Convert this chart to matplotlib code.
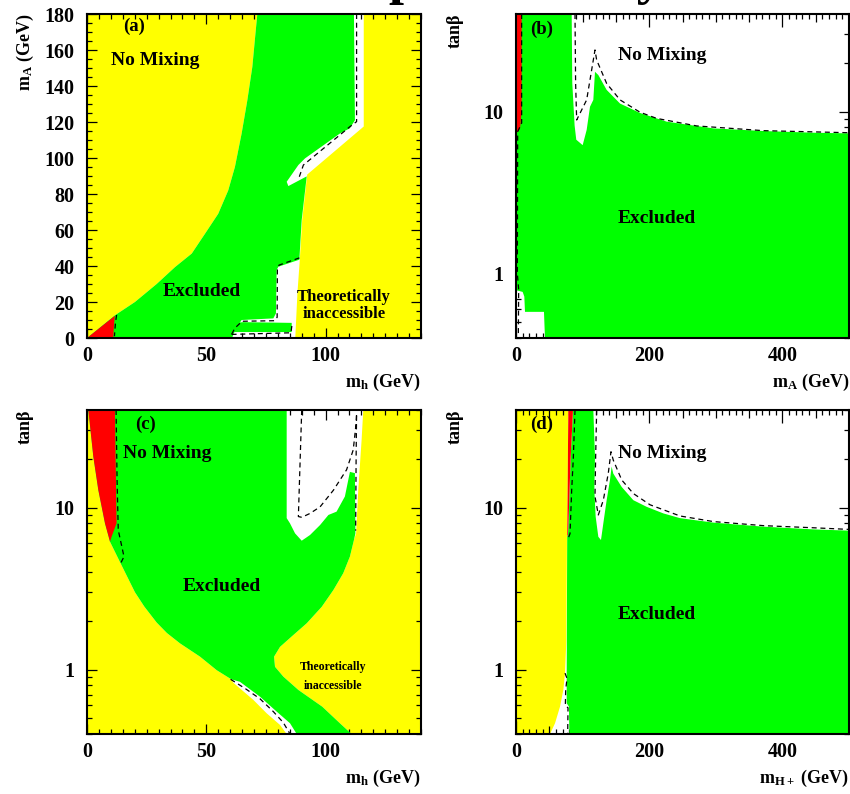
import matplotlib
matplotlib.use("Agg")
import matplotlib.pyplot as plt
from matplotlib.ticker import MultipleLocator, LogLocator, FuncFormatter, NullFormatter, FixedLocator

plt.rcParams['font.family'] = ['Liberation Serif', 'DejaVu Serif']
plt.rcParams['font.weight'] = 'bold'
plt.rcParams['mathtext.fontset'] = 'custom'
plt.rcParams['mathtext.rm'] = 'Liberation Serif:bold'
plt.rcParams['mathtext.it'] = 'Liberation Serif:bold'
plt.rcParams['mathtext.bf'] = 'Liberation Serif:bold'

YELLOW = '#FFFF00'
GREEN = '#00FF00'
RED = '#FF0000'

# ---------------- Panel (a): m_A vs m_h ----------------
a_left_x = [0, 11.7, 20.1, 29.2, 36.9, 43.9, 49.5, 55.0, 59.2, 62.0, 64.8, 67.2, 69.3, 70.6, 71.4]
a_left_y = [0, 12.6, 20.0, 30.0, 39.4, 46.9, 58.0, 69.0, 82.0, 95.0, 113.5, 132.0, 150.6, 169.0, 180]
a_allowed_right_x = [116.0, 116.0, 92.3, 90.2, 89.2, 88.2, 87.3]
a_allowed_right_y = [180, 117.5, 90.8, 65.6, 43.5, 25.0, 0]
a_green_right_x = [111.9, 112.3, 110.2, 106.1, 91.4, 88.6, 83.7, 84.4, 92.1, 90.0, 89.0, 80.2, 79.5, 79.2, 78.1, 64.8, 62.3, 60.8]
a_green_right_y = [180, 121.0, 116.5, 113.7, 99.8, 96.1, 86.8, 84.4, 89.8, 65.6, 43.5, 39.6, 37.8, 13.7, 10.9, 10.0, 5.0, 0]
a_tongue_x = [61.5, 85.8, 85.8, 65.5, 63.5, 62.0]
a_tongue_y = [3.3, 3.3, 8.4, 8.8, 8.6, 5.5]
a_red_x = [0, 11.7, 11.3, 11.0]
a_red_y = [0, 12.4, 7.0, 0]
a_dash1_x = [113.0, 113.0, 110.2, 90.7, 89.0]
a_dash1_y = [180, 120.2, 117.4, 96.1, 89.6]
a_dash2_x = [89.0, 80.5, 79.8, 79.7, 78.5, 65.0, 62.0, 60.6]
a_dash2_y = [44.5, 40.5, 38.5, 11.5, 9.6, 9.3, 5.5, 2.0]
a_dash3_x = [60.6, 85.5, 86.0]
a_dash3_y = [2.0, 2.9, 8.2]
a_dash4_x = [12.4, 11.9, 11.5]
a_dash4_y = [12.8, 8.0, 1.0]

# ---------------- Panel (b): tan(beta) vs m_A ----------------
b_green_x = [0, 83.6, 84.5, 88.0, 90.5, 100.1, 106.1, 111.1, 116.1, 118.6, 123.6, 136.1, 156.2,
             186.2, 226.2, 296.3, 371.4, 446.5, 500, 500, 43.5, 42.0, 13.5, 12.5, 10.0, 0]
b_green_y = [40, 40, 15.0, 8.2, 6.7, 6.2, 7.7, 10.7, 11.8, 17.6, 16.8, 13.6, 11.2,
             9.8, 8.66, 7.87, 7.58, 7.4, 7.33, 0.4, 0.4, 0.58, 0.58, 0.72, 0.77, 0.79]
b_red_x = [0, 8.5, 8.5, 6.0, 0]
b_red_y = [40, 40, 10.0, 7.8, 7.3]
b_dash1_x = [88.6, 89.5, 91.1, 106.1, 118.6, 121.1, 136.1, 156.2, 186.2, 211.2, 271.3, 371.4, 499.5, 499.5]
b_dash1_y = [40, 15.0, 8.87, 11.8, 24.0, 20.8, 14.9, 11.8, 9.9, 9.07, 8.15, 7.62, 7.4, 0.4]
b_dash2_x = [8.5, 8.5, 2.5, 2.0, 4.0, 3.5]
b_dash2_y = [40, 8.5, 7.5, 1.0, 0.8, 0.41]

# ---------------- Panel (c): tan(beta) vs m_h ----------------
c_green_x = [0.56, 83.7, 83.7, 85.1, 87.2, 90.0, 93.5, 97.7, 101.2, 104.6, 108.1, 110.2, 112.3, 112.5,
             111.9, 110.2, 107.4, 103.3, 98.4, 92.1, 85.8, 80.9, 78.4, 78.8, 82.3, 88.6, 98.6, 106.0, 110.9,
             87.9, 85.1, 79.5, 72.5, 64.1, 60.5, 54.4, 47.4, 39.0, 33.5, 29.2, 24.0, 20.1, 14.1, 9.64, 7.54, 4.75, 2.65]
c_green_y = [40, 40, 8.6, 7.98, 6.93, 6.24, 6.77, 7.8, 9.0, 9.43, 11.7, 16.6, 16.3, 6.93,
             6.31, 4.98, 3.93, 3.1, 2.44, 1.93, 1.6, 1.38, 1.2, 1.04, 0.904, 0.748, 0.59, 0.466, 0.4,
             0.4, 0.466, 0.55, 0.68, 0.84, 0.87, 0.99, 1.2, 1.45, 1.68, 1.95, 2.45, 3.0, 4.52, 6.15, 7.98, 12.8, 20.6]
c_allowed_x = [0.56, 115.8, 115.1, 113.7, 112.8,
               111.9, 110.2, 107.4, 103.3, 98.4, 92.1, 85.8, 80.9, 78.4, 78.8, 82.3, 88.6, 98.6, 106.0, 110.9,
               83.7, 80.9, 75.3, 69.7, 61.3, 60.5, 54.4, 47.4, 39.0, 33.5, 29.2, 24.0, 20.1, 14.1, 9.64, 7.54, 4.75, 2.65]
c_allowed_y = [40, 40, 26.1, 12.8, 6.93,
               6.31, 4.98, 3.93, 3.1, 2.44, 1.93, 1.6, 1.38, 1.2, 1.04, 0.904, 0.748, 0.59, 0.466, 0.4,
               0.4, 0.455, 0.537, 0.65, 0.83, 0.87, 0.99, 1.2, 1.45, 1.68, 1.95, 2.45, 3.0, 4.52, 6.15, 7.98, 12.8, 20.6]
c_red_x = [0.56, 11.7, 12.0, 12.4, 10.3, 9.64, 7.54, 4.75, 2.65]
c_red_y = [40, 40, 20.0, 8.0, 6.6, 6.15, 7.98, 12.8, 20.6]
c_dash1_x = [12.2, 12.6, 13.1, 15.5, 14.1]
c_dash1_y = [40, 15.0, 7.26, 4.98, 4.52]
c_dash2_x = [90.0, 88.6, 90.0, 93.5, 97.7, 103.3, 108.8, 111.6, 112.8, 113.0, 112.8, 112.6]
c_dash2_y = [40, 8.8, 8.7, 9.2, 10.1, 12.8, 17.1, 22.7, 33.1, 38.0, 20.0, 7.2]
c_dash3_x = [60.2, 66.5, 72.5, 78.1, 82.3, 85.1]
c_dash3_y = [0.87, 0.76, 0.66, 0.55, 0.47, 0.4]

# ---------------- Panel (d): tan(beta) vs m_H+ ----------------
d_yellow_x = [0, 51.1, 58.6, 66.1, 71.1, 73.6, 75.6, 76.1, 76.6, 77.6, 78.1, 78.6, 0]
d_yellow_y = [0.4, 0.4, 0.466, 0.59, 0.75, 0.95, 1.5, 3.2, 6.6, 13.0, 25.0, 40, 40]
d_green_x = [85.6, 116.1, 118.6, 117.6, 119.6, 123.6, 127.6, 131.1, 136.1, 141.1, 143.6, 146.1, 158.7,
             176.2, 196.2, 221.2, 246.2, 296.3, 371.4, 446.5, 500, 500, 80.1, 79.5, 76.1, 76.1, 76.3,
             76.6, 76.9, 78.1, 79.6, 82.0]
d_green_y = [40, 40, 20.6, 12.8, 8.8, 6.6, 6.3, 7.98, 11.1, 14.8, 17.9, 16.2, 13.4,
             11.1, 10.1, 9.2, 8.6, 8.07, 7.62, 7.33, 7.2, 0.4, 0.4, 0.59, 0.62, 0.93, 1.5,
             3.2, 6.6, 6.8, 10.0, 20.0]
d_red_x = [78.6, 85.6, 82.0, 79.6, 78.1, 76.9, 77.6, 78.1]
d_red_y = [40, 40, 20.0, 10.0, 6.8, 6.6, 13.0, 25.0]
d_dash1_x = [88.6, 86.0, 83.6, 81.1, 78.1]
d_dash1_y = [40, 20.0, 12.8, 6.9, 6.4]
d_dash2_x = [73.6, 76.6, 74.6, 74.1, 78.1, 77.6]
d_dash2_y = [0.95, 0.88, 0.75, 0.6, 0.58, 0.4]
d_dash3_x = [121.1, 119.6, 118.6, 123.6, 131.1, 138.6, 142.6, 146.1, 158.7, 176.2, 201.2, 246.2,
             296.3, 371.4, 446.5, 499.5, 499.5]
d_dash3_y = [40, 20.6, 11.7, 9.0, 11.1, 16.3, 22.1, 19.6, 14.8, 12.2, 10.4, 8.87,
             8.19, 7.73, 7.5, 7.33, 0.4]

mh_ticks = [0, 50, 100]
mA_ticks_a = [0, 20, 40, 60, 80, 100, 120, 140, 160, 180]
mass_ticks_b = [0, 200, 400]
tb_ticks = [1, 10]

fig = plt.figure(figsize=(8.5, 7.94), dpi=100)
W, H = 850.0, 794.0

def make_axes(left_px, top_px, right_px, bottom_px):
    return fig.add_axes([left_px / W, 1 - bottom_px / H, (right_px - left_px) / W, (bottom_px - top_px) / H])

ax_a = make_axes(87, 14, 421, 338)
ax_b = make_axes(516, 14, 849, 338)
ax_c = make_axes(87, 410, 421, 734)
ax_d = make_axes(516, 410, 849, 734)

DASH = dict(color='black', lw=0.9, ls=(0, (4, 3)), zorder=5)

def style_common(ax):
    for s in ax.spines.values():
        s.set_linewidth(1.5)
        s.set_zorder(6)
    ax.tick_params(which='both', direction='in', top=True, right=True, width=0.9,
                   labelsize=14.5, zorder=7)
    ax.tick_params(which='major', length=7.5)
    ax.tick_params(which='minor', length=3.5)
    ax.tick_params(axis='x', pad=6)
    ax.tick_params(axis='y', pad=9)
    for lab in ax.get_xticklabels() + ax.get_yticklabels():
        lab.set_fontweight('bold')

def mh_xaxis(ax):
    ax.set_xlim(0, 140)
    ax.xaxis.set_major_locator(FixedLocator(mh_ticks))
    ax.xaxis.set_minor_locator(MultipleLocator(5))
    ax.xaxis.set_major_formatter(FuncFormatter(lambda v, p: f"{v:.0f}"))

def heavy_xaxis(ax):
    ax.set_xlim(0, 500)
    ax.xaxis.set_major_locator(MultipleLocator(50))
    ax.xaxis.set_minor_locator(MultipleLocator(10))
    ax.xaxis.set_major_formatter(FuncFormatter(
        lambda v, p: f"{v:.0f}" if int(round(v)) in mass_ticks_b else ""))

def lengthen_heavy(ax):
    locs = ax.xaxis.get_majorticklocs()
    ticks = ax.xaxis.get_major_ticks(len(locs))
    for tk, v in zip(ticks, locs):
        if int(round(v)) % 200 == 0:
            tk.tick1line.set_markersize(9.5)
            tk.tick2line.set_markersize(9.5)
        else:
            tk.tick1line.set_markersize(5.5)
            tk.tick2line.set_markersize(5.5)

def tb_yaxis(ax):
    ax.set_yscale('log')
    ax.set_ylim(0.4, 40)
    ax.yaxis.set_major_locator(FixedLocator(tb_ticks))
    ax.yaxis.set_minor_locator(LogLocator(base=10, subs=(2, 3, 4, 5, 6, 7, 8, 9)))
    ax.yaxis.set_major_formatter(FuncFormatter(lambda v, p: f"{v:.0f}"))
    ax.yaxis.set_minor_formatter(NullFormatter())

# ---- panel a ----
ax = ax_a
ax.set_facecolor(YELLOW)
ax.fill(a_left_x + a_allowed_right_x, a_left_y + a_allowed_right_y, color='white', lw=0, zorder=1)
ax.fill(a_left_x + a_green_right_x, a_left_y + a_green_right_y, color=GREEN, lw=0, zorder=2)
ax.fill(a_tongue_x, a_tongue_y, color=GREEN, lw=0, zorder=2)
ax.fill(a_red_x, a_red_y, color=RED, lw=0, zorder=3)
for xs, ys in [(a_dash1_x, a_dash1_y), (a_dash2_x, a_dash2_y), (a_dash3_x, a_dash3_y), (a_dash4_x, a_dash4_y)]:
    ax.plot(xs, ys, **DASH)
mh_xaxis(ax)
ax.set_ylim(0, 180)
ax.yaxis.set_major_locator(FixedLocator(mA_ticks_a))
ax.yaxis.set_minor_locator(MultipleLocator(5))
style_common(ax)

# ---- panel b ----
ax = ax_b
ax.set_facecolor('white')
ax.fill(b_green_x, b_green_y, color=GREEN, lw=0, zorder=2)
ax.fill(b_red_x, b_red_y, color=RED, lw=0, zorder=3)
ax.plot(b_dash1_x, b_dash1_y, **DASH)
ax.plot(b_dash2_x, b_dash2_y, **DASH)
heavy_xaxis(ax)
tb_yaxis(ax)
style_common(ax)
lengthen_heavy(ax)

# ---- panel c ----
ax = ax_c
ax.set_facecolor(YELLOW)
ax.fill(c_allowed_x, c_allowed_y, color='white', lw=0, zorder=1)
ax.fill(c_green_x, c_green_y, color=GREEN, lw=0, zorder=2)
ax.fill(c_red_x, c_red_y, color=RED, lw=0, zorder=3)
for xs, ys in [(c_dash1_x, c_dash1_y), (c_dash2_x, c_dash2_y), (c_dash3_x, c_dash3_y)]:
    ax.plot(xs, ys, **DASH)
mh_xaxis(ax)
tb_yaxis(ax)
style_common(ax)

# ---- panel d ----
ax = ax_d
ax.set_facecolor('white')
ax.fill(d_yellow_x, d_yellow_y, color=YELLOW, lw=0, zorder=1)
ax.fill(d_green_x, d_green_y, color=GREEN, lw=0, zorder=2)
ax.fill(d_red_x, d_red_y, color=RED, lw=0, zorder=3)
for xs, ys in [(d_dash1_x, d_dash1_y), (d_dash2_x, d_dash2_y), (d_dash3_x, d_dash3_y)]:
    ax.plot(xs, ys, **DASH)
heavy_xaxis(ax)
tb_yaxis(ax)
style_common(ax)
lengthen_heavy(ax)

# ---- texts inside panels ----
def t(ax, fx, fy, s, size, **kw):
    ax.text(fx, fy, s, transform=ax.transAxes, ha='center', va='center',
            fontsize=size, fontweight='bold', zorder=8, **kw)

t(ax_a, 0.141, 0.961, "(a)", 13.5)
t(ax_a, 0.2036, 0.855, "No Mixing", 14)
t(ax_a, 0.344, 0.142, "Excluded", 14)
t(ax_a, 0.769, 0.1265, "Theoretically", 12)
t(ax_a, 0.769, 0.074, "inaccessible", 12)

t(ax_b, 0.077, 0.954, "(b)", 13.5)
t(ax_b, 0.438, 0.873, "No Mixing", 14)
t(ax_b, 0.423, 0.370, "Excluded", 14)

t(ax_c, 0.174, 0.957, "(c)", 13.5)
t(ax_c, 0.2395, 0.867, "No Mixing", 14)
t(ax_c, 0.404, 0.454, "Excluded", 14)
t(ax_c, 0.7365, 0.207, "Theoretically", 8.5)
t(ax_c, 0.7365, 0.148, "inaccessible", 8.5)

t(ax_d, 0.077, 0.957, "(d)", 13.5)
t(ax_d, 0.438, 0.867, "No Mixing", 14)
t(ax_d, 0.423, 0.370, "Excluded", 14)

# ---- axis titles ----
LBL = 13
fig.text(420 / W, 1 - 382 / H, r"$\mathrm{m_h}$ (GeV)", ha='right', va='center', fontsize=LBL, fontweight='bold')
fig.text(849 / W, 1 - 382 / H, r"$\mathrm{m_A}$ (GeV)", ha='right', va='center', fontsize=LBL, fontweight='bold')
fig.text(420 / W, 1 - 778 / H, r"$\mathrm{m_h}$ (GeV)", ha='right', va='center', fontsize=LBL, fontweight='bold')
fig.text(849 / W, 1 - 778 / H, r"$\mathrm{m_{H+}}$ (GeV)", ha='right', va='center', fontsize=LBL, fontweight='bold')
fig.text(25 / W, 1 - 14 / H, r"$\mathrm{m_A}$ (GeV)", rotation=90, ha='center', va='top', fontsize=LBL, fontweight='bold')
fig.text(455 / W, 1 - 14 / H, "tanβ", rotation=90, ha='center', va='top', fontsize=LBL, fontweight='bold')
fig.text(25 / W, 1 - 410 / H, "tanβ", rotation=90, ha='center', va='top', fontsize=LBL, fontweight='bold')
fig.text(455 / W, 1 - 410 / H, "tanβ", rotation=90, ha='center', va='top', fontsize=LBL, fontweight='bold')

# cropped header (only descenders visible in the reference)
fig.text(388 / W, 1 + 6.8 / H, "preliminary", ha='left', va='baseline', fontsize=39, fontweight='bold')

fig.savefig("out.png", dpi=100)
